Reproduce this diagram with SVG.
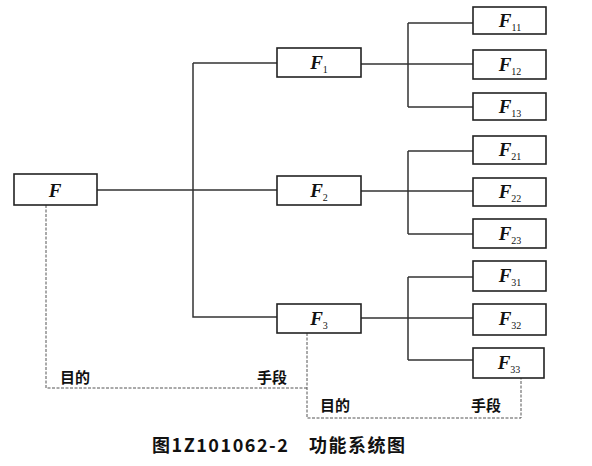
<svg xmlns="http://www.w3.org/2000/svg" width="592" height="466" viewBox="0 0 592 466">
<style>
.box{fill:#fff;stroke:#222;stroke-width:1.6}
.ln{fill:none;stroke:#333;stroke-width:1.5}
.dl{fill:none;stroke:#555;stroke-width:1;stroke-dasharray:3 1.5}
.lbl{font-family:"Liberation Serif",serif;font-style:italic;font-weight:bold;font-size:19px;fill:#111;text-anchor:middle}
.sub{font-style:normal;font-weight:normal;font-size:10px}
.cn{font-family:"Noto Sans CJK SC",sans-serif;font-weight:bold;font-size:15px;fill:#111}
.cap{font-family:"Noto Sans CJK SC",sans-serif;font-weight:bold;font-size:18px;fill:#111}
</style>
<rect width="592" height="466" fill="#fff"/>
<g id="connectors">
<path class="ln" d="M97 190H277M193 63V317H277M193 63H277"/>
<path class="ln" d="M361 64H473M408 23V107M408 23H473M408 107H473"/>
<path class="ln" d="M361 191H473M408 151V234M408 151H473M408 234H473"/>
<path class="ln" d="M361 318H473M408 277V360M408 277H473M408 360H473"/>
<path class="dl" d="M46 205V388H307"/>
<path class="dl" d="M307 333V418H521V378"/>
</g>
<g id="F"><rect class="box" x="14" y="174" width="83" height="31"/><text class="lbl" x="55" y="197">F</text></g>
<g id="F1"><rect class="box" x="277" y="48" width="84" height="29"/><text class="lbl" x="319" y="69">F<tspan class="sub" dy="4">1</tspan></text></g>
<g id="F2"><rect class="box" x="277" y="176" width="84" height="29"/><text class="lbl" x="319" y="197">F<tspan class="sub" dy="4">2</tspan></text></g>
<g id="F3"><rect class="box" x="277" y="304" width="84" height="29"/><text class="lbl" x="319" y="325">F<tspan class="sub" dy="4">3</tspan></text></g>
<g id="F11"><rect class="box" x="473" y="7" width="73" height="27"/><text class="lbl" x="510" y="27">F<tspan class="sub" dy="4">11</tspan></text></g>
<g id="F12"><rect class="box" x="473" y="50" width="73" height="29"/><text class="lbl" x="510" y="71">F<tspan class="sub" dy="4">12</tspan></text></g>
<g id="F13"><rect class="box" x="473" y="93" width="73" height="27"/><text class="lbl" x="510" y="113">F<tspan class="sub" dy="4">13</tspan></text></g>
<g id="F21"><rect class="box" x="473" y="136" width="73" height="28"/><text class="lbl" x="510" y="156">F<tspan class="sub" dy="4">21</tspan></text></g>
<g id="F22"><rect class="box" x="473" y="178" width="73" height="28"/><text class="lbl" x="510" y="198">F<tspan class="sub" dy="4">22</tspan></text></g>
<g id="F23"><rect class="box" x="473" y="219" width="73" height="29"/><text class="lbl" x="510" y="240">F<tspan class="sub" dy="4">23</tspan></text></g>
<g id="F31"><rect class="box" x="473" y="261" width="73" height="30"/><text class="lbl" x="510" y="282">F<tspan class="sub" dy="4">31</tspan></text></g>
<g id="F32"><rect class="box" x="473" y="304" width="73" height="31"/><text class="lbl" x="510" y="325">F<tspan class="sub" dy="4">32</tspan></text></g>
<g id="F33"><rect class="box" x="473" y="348" width="71" height="30"/><text class="lbl" x="509" y="369">F<tspan class="sub" dy="4">33</tspan></text></g>
<g id="labels">
<text class="cn" x="60" y="383">目的</text>
<text class="cn" x="257" y="383">手段</text>
<text class="cn" x="320" y="411">目的</text>
<text class="cn" x="471" y="411">手段</text>
<text class="cap" x="152" y="452" textLength="253" lengthAdjust="spacing">图1Z101062-2　功能系统图</text>
</g>
</svg>
